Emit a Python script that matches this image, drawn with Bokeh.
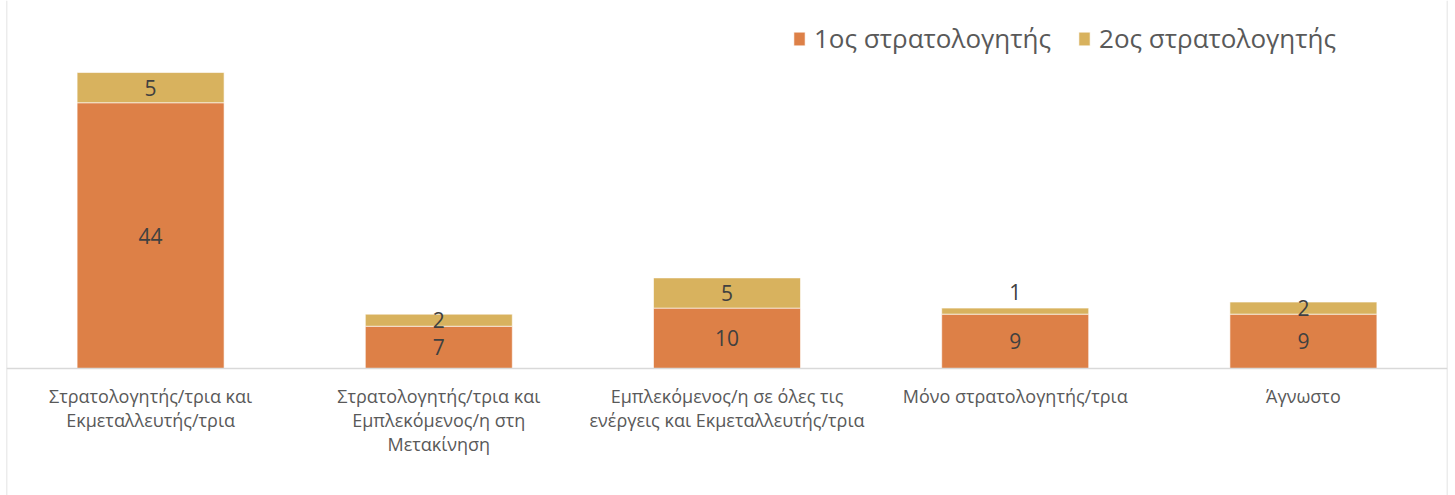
from bokeh.plotting import figure
from bokeh.models import ColumnDataSource, Range1d, FactorRange, Span, Legend, LegendItem
from bokeh.core.properties import value
from bokeh.embed import file_html
from bokeh.resources import INLINE

# --- data ---
categories = [
    "Στρατολογητής/τρια και\nΕκμεταλλευτής/τρια",
    "Στρατολογητής/τρια και\nΕμπλεκόμενος/η στη\nΜετακίνηση",
    "Εμπλεκόμενος/η σε όλες τις\nενέργεις και Εκμεταλλευτής/τρια",
    "Μόνο στρατολογητής/τρια",
    "Άγνωστο",
]
series_names = ["1ος στρατολογητής", "2ος στρατολογητής"]
first = [44, 7, 10, 9, 9]
second = [5, 2, 5, 1, 2]

colors = ["#DD8047", "#D8B25E"]
FONT = "Open Sans"

W, H = 1455, 495
base_px = 368          # screen row of the zero line
px_per_unit = 6.04     # vertical scale

keys = ["c%d" % i for i in range(len(categories))]
src = ColumnDataSource(dict(cat=keys, first=first, second=second, label=categories))

p = figure(
    width=W, height=H,
    x_range=FactorRange(*keys, range_padding=0),
    y_range=Range1d(-(H - base_px) / px_per_unit, base_px / px_per_unit),
    output_backend="svg", toolbar_location=None,
    x_axis_location=None, y_axis_location=None,
    min_border_left=6, min_border_right=8, min_border_top=0, min_border_bottom=0,
)
p.outline_line_color = None
p.xgrid.visible = False
p.ygrid.visible = False
p.background_fill_color = "white"
p.border_fill_color = "white"

renderers = p.vbar_stack(
    ["first", "second"], x="cat", width=0.51, source=src,
    color=colors, line_color="white", line_width=0.6,
)

# zero line and side borders
p.add_layout(Span(location=0, dimension="width", line_color="#D9D9D9", line_width=1.5))
p.add_layout(Span(location=0, dimension="height", line_color="#D9D9D9", line_width=1.5))
p.add_layout(Span(location=len(categories), dimension="height", line_color="#D9D9D9", line_width=1.5))

# value labels, centred in each segment (tiny segments get their label above the bar)
lx, ly, lt, loff = [], [], [], []
for k, a, b in zip(keys, first, second):
    lx.append(k); ly.append(a / 2); lt.append(str(a)); loff.append(0)
    if b * px_per_unit < 8:
        lx.append(k); ly.append(a + b); lt.append(str(b)); loff.append(-16)
    else:
        lx.append(k); ly.append(a + b / 2); lt.append(str(b)); loff.append(0)
lab_src = ColumnDataSource(dict(x=lx, y=ly, t=lt, off=loff))
p.text(x="x", y="y", text="t", y_offset="off", source=lab_src,
       text_font=value(FONT), text_font_size="21px", text_color="#404040",
       text_align="center", text_baseline="middle")

# category labels under the zero line
p.text(x="cat", y=0, text="label", source=src, y_offset=15,
       text_font=value(FONT), text_font_size="18px", text_color="#595959",
       text_align="center", text_baseline="top", text_line_height=1.0)

legend = Legend(
    items=[LegendItem(label=n, renderers=[r]) for n, r in zip(series_names, renderers)],
    orientation="horizontal", location=(786, 439),
    label_text_font=FONT, label_text_font_size="26px", label_text_color="#595959",
    glyph_width=14, glyph_height=17, label_standoff=8, spacing=26,
    padding=0, margin=0, border_line_color=None, background_fill_alpha=0,
)
p.add_layout(legend)

open("out.html", "w").write(file_html(p, INLINE))
